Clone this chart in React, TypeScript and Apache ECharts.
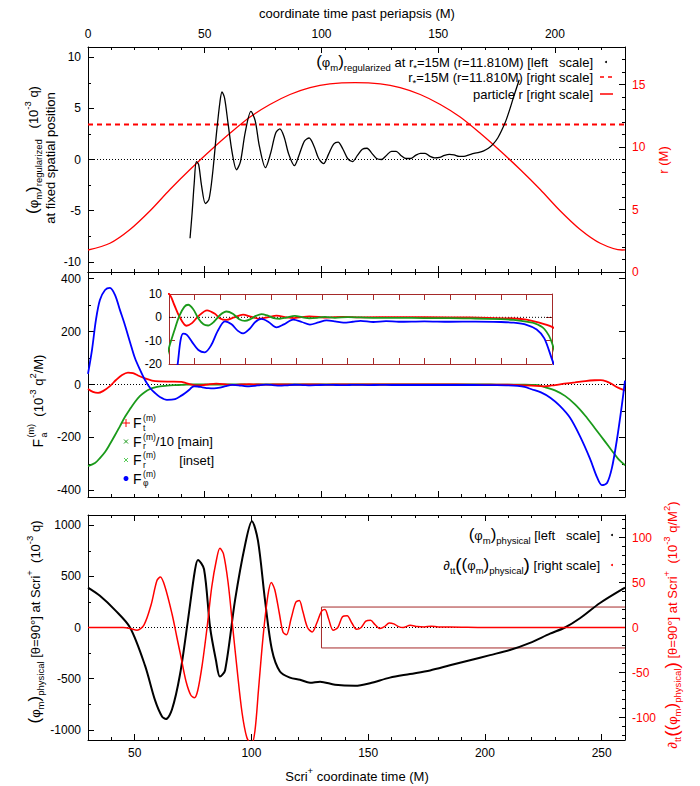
import React, { useEffect, useRef } from "react";
import * as echarts from "echarts";

const FONT = '"Liberation Sans", Arial, Helvetica, sans-serif';
const RED = "#ff0000";
const GREEN = "#1a9a1a";
const LIGHT_GREEN = "#55cc55";
const BLUE = "#0000ff";
const BOX = "#a52a2a";

// ---------- top panel: coordinate time past periapsis (M) ----------
const orbitT = [0, 9.4, 18, 26.6, 35.1, 43.7, 52.3, 60.8, 69.4, 77.9, 86.5, 95.1, 103.6, 114.4, 125.2, 133.7, 142.3, 150.9, 159.4, 168, 176.5, 185.1, 193.7, 202.2, 210.8, 219.4, 228.8, 230];
const orbitR = [1.76, 2.3, 3.4, 4.9, 6.6, 8.2, 9.7, 11.1, 12.4, 13.4, 14.2, 14.75, 15.05, 15.15, 15.05, 14.75, 14.2, 13.4, 12.4, 11.1, 9.7, 8.2, 6.6, 4.9, 3.4, 2.3, 1.76, 1.77];
const extractionR = 11.81;

const phiRegT = [43.7, 44.6, 45.5, 46.4, 47.4, 48.6, 50.3, 51.8, 53.3, 55.0, 56.5, 57.4, 58.5, 60.0, 61.8, 63.6, 65.3, 67.3, 69.8, 71.6, 73.4, 76.0, 78.2, 80.4, 82.2, 84.0, 86.0, 88.4, 90.5, 92.7, 94.7, 96.8, 98.8, 100.9, 103.0, 105.2, 107.1, 109.2, 111.2, 113.3, 115.4, 117.5, 119.5, 121.6, 123.6, 125.7, 127.8, 130.0, 132.0, 134.0, 136.1, 138.2, 140.3, 142.4, 144.4, 146.5, 148.5, 150.6, 152.7, 154.8, 156.8, 159.0, 161.0, 163.2, 165.3, 167.5, 169.5, 171.5, 173.5, 175.5, 177.3, 179.0, 180.5, 182.0, 183.4, 184.7];
const phiRegV = [-7.7, -5.2, -2.3, -0.2, -0.5, -2.5, -4.3, -3.9, -1.5, 2.5, 5.6, 6.6, 6.0, 3.5, 0.6, -1.0, -0.2, 2.6, 4.7, 3.8, 1.3, -0.8, 0.6, 2.6, 3.0, 2.2, 0.5, -0.6, 0.5, 1.8, 2.1, 1.3, 0.1, -0.4, 0.5, 1.5, 1.7, 1.0, 0.1, -0.2, 0.4, 1.0, 1.1, 0.6, 0.1, 0.0, 0.4, 0.8, 0.8, 0.4, 0.1, 0.1, 0.4, 0.6, 0.6, 0.3, 0.15, 0.2, 0.4, 0.5, 0.45, 0.3, 0.3, 0.45, 0.6, 0.7, 0.85, 1.1, 1.5, 2.1, 2.9, 3.8, 4.8, 5.9, 6.9, 7.8];

// ---------- middle panel: self-force components (10^-3 q^2/M) ----------
const ftT = [0, 2.1, 4.3, 6.4, 9.4, 12, 14.6, 17.1, 19.3, 21.4, 24.4, 27.4, 30.8, 35.1, 40, 42, 44, 46.8, 49, 51.5, 54.9, 58, 60, 62.5, 65.5, 69, 72, 75.6, 79, 82.1, 86, 89, 95, 102, 108, 115, 130, 150, 165, 175, 180, 185, 190, 195, 200, 204, 208.6, 213, 217, 219.5, 222, 224.4, 227, 230];
const ftV = [-17, -28, -32, -25, -6, 17, 36, 45, 43, 34, 23, 15, 12, 11, 10, 5.5, 0.5, -3.6, -2.5, 0.5, 3.0, 1.5, -0.5, -1.1, 0, 1.2, 0.3, -0.6, 0.1, 0.7, 0, -0.3, 0.4, -0.1, 0.2, 0, 0.1, 0, -0.2, -0.5, -1, -2.3, -4.1, -7, -2, 3, 8, 13, 16, 16.5, 12, 2, -12, -22];

const frT = [0, 3, 5.1, 7.3, 9.4, 11.6, 13.7, 15.8, 18, 20.1, 22.3, 24.4, 26.6, 28.7, 30.8, 33, 35.1, 37.5, 40, 42, 44, 46, 47.5, 49.5, 51.5, 53.5, 55.3, 57.5, 60, 62.5, 65, 67.5, 69.7, 72, 74, 76.2, 78.5, 81, 83.4, 86, 89.3, 92, 95, 98, 101, 105, 110, 120, 130, 140, 150, 160, 170, 175, 178, 183, 187, 190, 193, 195.7, 200, 204.3, 208.6, 212.9, 217.1, 221.4, 224.4, 227, 230];
const frV = [-3080, -2970, -2780, -2550, -2250, -1910, -1570, -1230, -930, -660, -430, -280, -170, -110, -75, -50, -35, -24, -13, -6, 0.5, 4.5, 5.4, 3.5, -0.5, -3, -3.5, -2, 1, 2.5, 1.5, -0.8, -1.5, -0.7, 0.6, 1.4, 0.8, -0.3, -0.6, -0.1, 0.6, 0.1, -0.4, -0.2, 0.2, -0.2, 0.1, -0.2, -0.2, -0.3, -0.3, -0.5, -0.8, -1.1, -1.5, -2.5, -5, -11, -25, -100, -220, -430, -750, -1170, -1650, -2150, -2500, -2800, -3050];

const fphT = [0, 1.7, 3.4, 5.1, 7.3, 9.4, 11.6, 13.7, 15.8, 18, 20.1, 22.3, 24.4, 26.6, 28.7, 30.8, 33.8, 37.3, 40, 41.5, 43.4, 44.5, 45.5, 47, 49, 51.5, 54, 56.5, 59, 61.9, 64.5, 67, 69, 71.5, 73.8, 76.2, 79, 82.1, 85, 88.6, 92, 95.2, 98.5, 101.7, 105, 108.3, 112, 115, 120, 125, 130, 140, 150, 160, 170, 175, 180, 184, 187, 190, 194, 198, 202, 206.4, 210.7, 215, 218, 220.1, 222.3, 224.4, 226.6, 228.7, 230];
const fphV = [40, 130, 244, 319, 357, 365, 338, 281, 225, 160, 100, 55, 17, -13, -32, -47, -58, -55, -42, -33, -20, -10, -7, -7.5, -10.5, -14, -15, -12, -6, -1.7, -3, -5.8, -6.9, -5, -2, -0.7, -2, -4.3, -3, -1, -2, -3.1, -2.2, -1.3, -1.7, -2.3, -1.9, -1.5, -2.0, -1.6, -1.9, -1.7, -1.9, -1.8, -2.0, -2.3, -3.2, -5.2, -9, -18, -30, -50, -80, -125, -195, -280, -350, -380, -372, -315, -205, -75, 15];

// ---------- bottom panel: Scri+ coordinate time (M) ----------
const scriT = [30, 35.1, 41.6, 48, 54.4, 58.7, 61.7, 63.4, 66, 69.4, 72.8, 75.8, 77.1, 79.7, 82.3, 84.8, 86.5, 88.7, 93, 97.2, 100.2, 102.8, 105.8, 108.8, 112.2, 116.5, 120.8, 125.1, 129.4, 135.8, 144.4, 150.8, 159.3, 167.9, 176.5, 185, 193.6, 202.2, 210.7, 219.3, 227.9, 234.3, 240.7, 249.3, 260];
const phiPhysV = [390, 310, 170, 0, -370, -710, -870, -895, -800, -460, 70, 560, 660, 570, 0, -320, -480, -420, 270, 800, 1040, 850, 270, -220, -430, -490, -510, -540, -530, -560, -570, -545, -490, -455, -420, -370, -320, -270, -220, -150, -60, 0, 90, 240, 390];

const ddT = [30, 45, 48, 51, 54, 57, 59.5, 61, 63, 66, 68, 70, 72, 74, 75.6, 77, 79, 81, 83, 85, 86.5, 88, 90, 92, 94, 96, 98, 100, 101.5, 103, 105, 107, 108.5, 110, 112, 113.5, 115, 117, 119, 120.5, 122, 124, 126, 128, 130, 131.5, 133, 135, 137, 139, 141, 143, 145, 147, 149, 151, 153, 155, 157, 159, 161, 163, 165, 168, 171, 174, 177, 180, 185, 200, 230, 260];
const ddV = [0, 0, -1, -3, 3, 25, 52, 56, 45, 15, -10, -35, -60, -75, -78, -70, -40, 0, 45, 75, 88, 82, 50, 0, -50, -95, -122, -130, -115, -70, -10, 35, 50, 42, 15, -5, -8, 10, 28, 30, 18, 0, -5, 5, 18, 20, 10, -3, 0, 12, 13, 5, -2, 0, 7, 8, 3, -1, 1, 5, 4, 1, 0, 2.5, 1, 0.5, 1.5, 0.5, 0.5, 0, 0, 0];

// outline marking the late-time window on the bottom panel (left scale units)
const boxT = [260, 130, 130, 260];
const boxV = [200, 200, -200, -200];

const zip = (xs: number[], ys: number[]) => xs.map((x, i) => [x, ys[i]]);

// ---------- text helpers (super/subscripts laid out by hand) ----------
type Seg = { t: string; s?: number; dy?: number; stack?: boolean; gap?: number };
let measureCtx: CanvasRenderingContext2D | null = null;
function measure(t: string, s: number) {
  if (!measureCtx) measureCtx = document.createElement("canvas").getContext("2d");
  measureCtx!.font = `${s}px ${FONT}`;
  return measureCtx!.measureText(t).width;
}
const B = (t: string, s = 13): Seg => ({ t, s });
const SUP = (t: string): Seg => ({ t, s: 9.5, dy: -5.5 });
const SUB = (t: string): Seg => ({ t, s: 9.5, dy: 5 });
// stacked pair: superscript then subscript sharing the same x
const SUPS = (t: string): Seg => ({ t, s: 8.5, dy: -5, gap: 1.5 });
const SUBS = (t: string): Seg => ({ t, s: 8.5, dy: 4.5, stack: true });
const P = (t: string, s = 17): Seg => ({ t, s, dy: -0.5 });

function richText(segs: Seg[], x: number, y: number, align: "left" | "center" | "right", color = "#000", rotation = 0) {
  let cx = 0;
  let prevStart = 0;
  let prevW = 0;
  const items: { t: string; s: number; dy: number; x0: number }[] = [];
  for (const sg of segs) {
    const s = sg.s ?? 13;
    const w = measure(sg.t, s);
    let start: number;
    if (sg.stack) {
      start = prevStart;
      prevW = Math.max(prevW, w);
      cx = prevStart + prevW;
    } else {
      cx += sg.gap ?? 0;
      start = cx;
      cx += w;
      prevStart = start;
      prevW = w;
    }
    items.push({ t: sg.t, s, dy: sg.dy ?? 0, x0: start });
  }
  const off = align === "center" ? -cx / 2 : align === "right" ? -cx : 0;
  return {
    type: "group",
    x,
    y,
    rotation,
    silent: true,
    children: items.map((it) => ({
      type: "text",
      x: it.x0 + off,
      y: it.dy,
      style: {
        text: it.t,
        fill: color,
        fontSize: it.s,
        fontFamily: FONT,
        align: "left",
        textAlign: "left",
        verticalAlign: "middle",
        textVerticalAlign: "middle",
      },
    })),
  };
}

const isMultiple = (v: number, step: number) => Math.abs(v / step - Math.round(v / step)) < 1e-6;

function valAxis(o: {
  gridIndex: number;
  position: string;
  min: number;
  max: number;
  step: number;
  minorSplit: number;
  labels: boolean;
  labelColor?: string;
  lineColor?: string;
}) {
  const lc = o.lineColor ?? "#000";
  return {
    type: "value",
    gridIndex: o.gridIndex,
    position: o.position,
    min: o.min,
    max: o.max,
    minInterval: o.step,
    maxInterval: o.step,
    splitNumber: Math.max(1, Math.round((o.max - o.min) / o.step)),
    axisLine: { show: true, onZero: false, lineStyle: { color: lc, width: 1 } },
    axisTick: { show: true, inside: true, length: 6, lineStyle: { color: lc, width: 1 } },
    minorTick: { show: o.minorSplit > 1, splitNumber: Math.max(o.minorSplit, 1), length: 3, lineStyle: { color: lc, width: 1 } },
    splitLine: { show: false },
    minorSplitLine: { show: false },
    axisLabel: {
      show: o.labels,
      color: o.labelColor ?? "#000",
      fontSize: 12,
      fontFamily: FONT,
      margin: 7,
      formatter: (v: number) => (isMultiple(v, o.step) ? String(Math.round(v)) : ""),
    },
  };
}

function curve(name: string, xi: number, yi: number, data: number[][], color: string, width: number, extra: any = {}) {
  return {
    name,
    type: "line",
    xAxisIndex: xi,
    yAxisIndex: yi,
    data,
    symbol: "none",
    showSymbol: false,
    smooth: 0.3,
    silent: true,
    lineStyle: { color, width },
    z: 3,
    ...extra,
  };
}

function zeroLine(xi: number, yi: number, x0: number, x1: number) {
  return curve("zero", xi, yi, [[x0, 0], [x1, 0]], "#000", 1, { smooth: false, lineStyle: { color: "#000", width: 1, type: [1, 2] }, z: 2 });
}

function buildOption() {
  const graphics: any[] = [];

  // axis titles
  graphics.push(richText([B("coordinate time past periapsis (M)")], 357, 13, "center"));
  graphics.push(richText([B("Scri"), SUP("+"), B(" coordinate time (M)")], 357, 776, "center"));
  graphics.push(
    richText([P("("), B("φ"), SUB("m"), P(")"), SUB("regularized"), B("   (10"), SUP("-3"), B(" q)")], 33, 150, "center", "#000", Math.PI / 2)
  );
  graphics.push(richText([B("at fixed spatial position")], 50, 158, "center", "#000", Math.PI / 2));
  graphics.push(richText([B("r (M)")], 663, 160, "center", RED, Math.PI / 2));
  graphics.push(
    richText([B("F", 14), { t: "(m)", s: 9, dy: -7, gap: 1.5 }, { t: "a", s: 9, dy: 6, stack: true }, B("  (10"), SUP("-3"), B(" q"), SUP("2"), B("/M)")], 38, 401, "center", "#000", Math.PI / 2)
  );
  graphics.push(
    richText(
      [P("("), B("φ"), SUB("m"), P(")"), SUB("physical"), B(" [θ=90°] at Scri"), SUP("+"), B("  (10"), SUP("-3"), B(" q)")],
      35,
      622,
      "center",
      "#000",
      Math.PI / 2
    )
  );
  graphics.push(
    richText(
      [B("∂"), SUB("tt"), P("(", 19), P("("), B("φ"), SUB("m"), P(")"), SUB("physical"), P(")", 19), B(" [θ=90°] at Scri"), SUP("+"), B("  (10"), SUP("-3"), B(" q/M"), SUP("2"), B(")")],
      672,
      625,
      "center",
      RED,
      Math.PI / 2
    )
  );

  // top legend
  graphics.push(
    richText(
      [P("("), B("φ"), SUB("m"), P(")"), SUB("regularized"), B(" at r"), SUB("*"), B("=15M (r=11.810M) [left   scale]")],
      593,
      62,
      "right"
    )
  );
  graphics.push({ type: "circle", shape: { cx: 606, cy: 62, r: 1 }, style: { fill: "#000" }, silent: true });
  graphics.push(richText([B("r"), SUB("*"), B("=15M (r=11.810M) [right scale]")], 593, 77, "right"));
  graphics.push({ type: "line", shape: { x1: 600, y1: 77, x2: 613, y2: 77 }, style: { stroke: RED, lineWidth: 1.5, lineDash: [4, 4] }, silent: true });
  graphics.push(richText([B("particle r [right scale]")], 593, 94, "right"));
  graphics.push({ type: "line", shape: { x1: 600, y1: 94, x2: 613, y2: 94 }, style: { stroke: RED, lineWidth: 1.5 }, silent: true });

  // middle legend
  const fLabel = (sub: string, tail: string) => [B("F", 14), SUPS("(m)"), SUBS(sub), B(tail)];
  const rows = [423, 441.5, 460, 478.5];
  graphics.push(richText(fLabel("t", ""), 133, rows[0], "left"));
  graphics.push({ type: "line", shape: { x1: 122, y1: rows[0], x2: 130, y2: rows[0] }, style: { stroke: RED, lineWidth: 1 }, silent: true });
  graphics.push({ type: "line", shape: { x1: 126, y1: rows[0] - 4, x2: 126, y2: rows[0] + 4 }, style: { stroke: RED, lineWidth: 1 }, silent: true });
  graphics.push(richText(fLabel("r", "/10 [main]"), 133, rows[1], "left"));
  graphics.push({ type: "line", shape: { x1: 124, y1: rows[1] - 2, x2: 128, y2: rows[1] + 2 }, style: { stroke: GREEN, lineWidth: 1 }, silent: true });
  graphics.push({ type: "line", shape: { x1: 124, y1: rows[1] + 2, x2: 128, y2: rows[1] - 2 }, style: { stroke: GREEN, lineWidth: 1 }, silent: true });
  graphics.push(richText(fLabel("r", ""), 133, rows[2], "left"));
  graphics.push(richText([B("[inset]")], 214, rows[2], "right"));
  graphics.push({ type: "line", shape: { x1: 124, y1: rows[2] - 2, x2: 128, y2: rows[2] + 2 }, style: { stroke: LIGHT_GREEN, lineWidth: 1 }, silent: true });
  graphics.push({ type: "line", shape: { x1: 124, y1: rows[2] + 2, x2: 128, y2: rows[2] - 2 }, style: { stroke: LIGHT_GREEN, lineWidth: 1 }, silent: true });
  graphics.push(richText(fLabel("φ", ""), 133, rows[3], "left"));
  graphics.push({ type: "circle", shape: { cx: 126, cy: rows[3], r: 2.5 }, style: { fill: BLUE }, silent: true });

  // bottom legend
  graphics.push(richText([P("("), B("φ"), SUB("m"), P(")"), SUB("physical"), B(" [left   scale]")], 600, 535, "right"));
  graphics.push({ type: "circle", shape: { cx: 612, cy: 535, r: 1 }, style: { fill: "#000" }, silent: true });
  graphics.push(
    richText([B("∂"), SUB("tt"), P("(", 19), P("("), B("φ"), SUB("m"), P(")"), SUB("physical"), P(")", 19), B(" [right scale]")], 600, 565, "right")
  );
  graphics.push({ type: "circle", shape: { cx: 612, cy: 565, r: 1 }, style: { fill: RED }, silent: true });

  return {
    animation: false,
    backgroundColor: "#fff",
    grid: [
      { left: 88, right: 75, top: 47, height: 225 },
      { left: 88, right: 75, top: 272, height: 225 },
      { left: 88, right: 75, top: 515, height: 225 },
      { left: 169, width: 383, top: 294, height: 70 },
    ],
    xAxis: [
      valAxis({ gridIndex: 0, position: "top", min: 0, max: 230, step: 50, minorSplit: 5, labels: true }),
      valAxis({ gridIndex: 0, position: "bottom", min: 0, max: 230, step: 50, minorSplit: 5, labels: false }),
      valAxis({ gridIndex: 1, position: "bottom", min: 0, max: 230, step: 50, minorSplit: 5, labels: false }),
      valAxis({ gridIndex: 1, position: "top", min: 0, max: 230, step: 50, minorSplit: 5, labels: false }),
      valAxis({ gridIndex: 2, position: "bottom", min: 30, max: 260, step: 50, minorSplit: 5, labels: true }),
      valAxis({ gridIndex: 2, position: "top", min: 30, max: 260, step: 50, minorSplit: 5, labels: false }),
      valAxis({ gridIndex: 3, position: "bottom", min: 40, max: 190, step: 10, minorSplit: 0, labels: false, lineColor: BOX }),
      valAxis({ gridIndex: 3, position: "top", min: 40, max: 190, step: 10, minorSplit: 0, labels: false, lineColor: BOX }),
    ],
    yAxis: [
      valAxis({ gridIndex: 0, position: "left", min: -11, max: 11, step: 5, minorSplit: 2, labels: true }),
      valAxis({ gridIndex: 0, position: "right", min: 0, max: 18, step: 5, minorSplit: 5, labels: true, labelColor: RED }),
      valAxis({ gridIndex: 1, position: "left", min: -425, max: 425, step: 200, minorSplit: 2, labels: true }),
      valAxis({ gridIndex: 1, position: "right", min: -425, max: 425, step: 200, minorSplit: 2, labels: false }),
      valAxis({ gridIndex: 2, position: "left", min: -1100, max: 1100, step: 500, minorSplit: 2, labels: true }),
      valAxis({ gridIndex: 2, position: "right", min: -125, max: 125, step: 50, minorSplit: 5, labels: true, labelColor: RED }),
      { ...valAxis({ gridIndex: 3, position: "left", min: -20, max: 10, step: 10, minorSplit: 0, labels: true, lineColor: BOX }), axisLabel: { color: "#000", fontSize: 12, fontFamily: FONT, margin: 7 } },
      valAxis({ gridIndex: 3, position: "right", min: -20, max: 10, step: 10, minorSplit: 0, labels: false, lineColor: BOX }),
    ],
    series: [
      // top panel
      zeroLine(0, 0, 0, 230),
      curve("extraction radius", 0, 1, [[0, extractionR], [230, extractionR]], RED, 2, { smooth: false, lineStyle: { color: RED, width: 2, type: [5, 4] } }),
      curve("particle r", 0, 1, zip(orbitT, orbitR), RED, 1.3),
      curve("phi regularized", 0, 0, zip(phiRegT, phiRegV), "#000", 1.3),
      // middle panel
      zeroLine(2, 2, 0, 230),
      curve("F_r/10", 2, 2, zip(frT, frV.map((v) => v / 10)), GREEN, 1.8),
      curve("F_t", 2, 2, zip(ftT, ftV), RED, 1.8),
      curve("F_phi", 2, 2, zip(fphT, fphV), BLUE, 1.8),
      // inset
      zeroLine(6, 6, 40, 190),
      curve("F_t inset", 6, 6, zip(ftT, ftV), RED, 1.8),
      curve("F_r inset", 6, 6, zip(frT, frV), GREEN, 1.8),
      curve("F_phi inset", 6, 6, zip(fphT, fphV), BLUE, 1.8),
      // bottom panel
      zeroLine(4, 4, 30, 260),
      curve("window", 4, 4, zip(boxT, boxV), BOX, 1, { smooth: false, z: 2 }),
      curve("phi physical", 4, 4, zip(scriT, phiPhysV), "#000", 2),
      curve("d2 phi physical", 4, 5, zip(ddT, ddV), RED, 1.5),
    ],
    graphic: graphics,
  };
}

export default function App() {
  const ref = useRef<HTMLDivElement>(null);
  useEffect(() => {
    const chart = echarts.init(ref.current!, null, { renderer: "svg" });
    chart.setOption(buildOption() as any);
    return () => chart.dispose();
  }, []);
  return <div ref={ref} style={{ position: "absolute", left: 0, top: 0, width: 700, height: 786, background: "#fff" }} />;
}
